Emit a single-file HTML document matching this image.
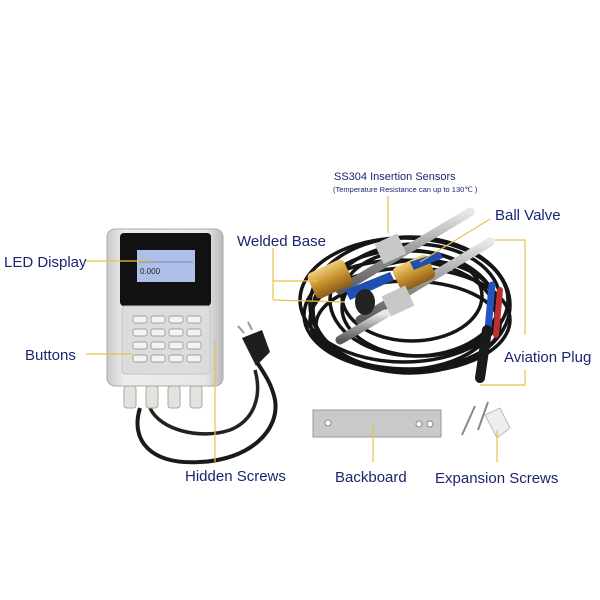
<!DOCTYPE html>
<html><head><meta charset="utf-8"><style>
html,body{margin:0;padding:0;background:#fff;width:600px;height:600px;overflow:hidden}
svg{display:block}
text{font-family:"Liberation Sans",sans-serif;fill:#1c2470}
</style></head><body>
<svg width="600" height="600" viewBox="0 0 600 600" xmlns="http://www.w3.org/2000/svg">
<defs>
<linearGradient id="sil" x1="0" x2="1" y1="0" y2="0">
<stop offset="0" stop-color="#c9cacc"/><stop offset="0.15" stop-color="#eceded"/><stop offset="0.85" stop-color="#e6e7e8"/><stop offset="1" stop-color="#b9babc"/></linearGradient>
<linearGradient id="brass" x1="0" x2="0" y1="0" y2="1"><stop offset="0" stop-color="#f0cf7a"/><stop offset="0.5" stop-color="#c8922e"/><stop offset="1" stop-color="#8a5d1a"/></linearGradient>
<linearGradient id="rod" x1="0" x2="0" y1="0" y2="1"><stop offset="0" stop-color="#e8e8e8"/><stop offset="0.5" stop-color="#9a9a9a"/><stop offset="1" stop-color="#5a5a5a"/></linearGradient>
</defs>

<path d="M140 408 C130 440 150 465 200 462 C250 460 280 430 275 400 C270 375 255 365 252 350" fill="none" stroke="#1a1a1a" stroke-width="4"/>
<path d="M150 408 C160 430 200 440 230 430 C255 420 262 395 255 370" fill="none" stroke="#222" stroke-width="3.5"/>
<path d="M242 338 L262 330 L270 352 L256 366 Z" fill="#1e1e1e"/>
<line x1="244" y1="333" x2="238" y2="326" stroke="#999" stroke-width="2"/>
<line x1="252" y1="330" x2="248" y2="322" stroke="#999" stroke-width="2"/>

<rect x="107" y="229" width="116" height="157" rx="8" fill="url(#sil)" stroke="#aaa"/>
<rect x="120" y="233" width="91" height="73" rx="4" fill="#111"/>
<rect x="137" y="250" width="58" height="32" fill="#aebfe8"/>
<text x="140" y="274" font-size="8" style="fill:#222">0.000</text>
<line x1="139" y1="262" x2="193" y2="262" stroke="#556" stroke-width="0.5"/>
<rect x="122" y="306" width="88" height="68" rx="3" fill="#dcdcdd" stroke="#c4c4c4"/>
<g fill="#f3f3f3" stroke="#888" stroke-width="0.7">
<rect x="133" y="316" width="14" height="7" rx="2"/><rect x="151" y="316" width="14" height="7" rx="2"/><rect x="169" y="316" width="14" height="7" rx="2"/><rect x="187" y="316" width="14" height="7" rx="2"/>
<rect x="133" y="329" width="14" height="7" rx="2"/><rect x="151" y="329" width="14" height="7" rx="2"/><rect x="169" y="329" width="14" height="7" rx="2"/><rect x="187" y="329" width="14" height="7" rx="2"/>
<rect x="133" y="342" width="14" height="7" rx="2"/><rect x="151" y="342" width="14" height="7" rx="2"/><rect x="169" y="342" width="14" height="7" rx="2"/><rect x="187" y="342" width="14" height="7" rx="2"/>
<rect x="133" y="355" width="14" height="7" rx="2"/><rect x="151" y="355" width="14" height="7" rx="2"/><rect x="169" y="355" width="14" height="7" rx="2"/><rect x="187" y="355" width="14" height="7" rx="2"/>
</g>
<g fill="#e4e2dc" stroke="#a9a79f">
<rect x="124" y="386" width="12" height="22" rx="3"/><rect x="146" y="386" width="12" height="22" rx="3"/><rect x="168" y="386" width="12" height="22" rx="3"/><rect x="190" y="386" width="12" height="22" rx="3"/>
</g>

<g fill="none" stroke="#151515" stroke-width="3.5">
<ellipse cx="410" cy="305" rx="100" ry="68"/>
<ellipse cx="405" cy="310" rx="92" ry="60"/>
<ellipse cx="415" cy="300" rx="85" ry="56"/>
<ellipse cx="400" cy="315" rx="96" ry="55"/>
<ellipse cx="420" cy="308" rx="78" ry="48"/>
<ellipse cx="410" cy="320" rx="100" ry="52"/>
<ellipse cx="412" cy="296" rx="70" ry="45"/>
<ellipse cx="408" cy="325" rx="92" ry="44"/>
<ellipse cx="404" cy="300" rx="104" ry="62"/>
</g>
<line x1="340" y1="290" x2="470" y2="212" stroke="url(#rod)" stroke-width="9" stroke-linecap="round"/>
<rect x="310" y="265" width="40" height="28" rx="5" fill="url(#brass)" transform="rotate(-25 330 279)"/>
<rect x="378" y="238" width="25" height="22" fill="#c8c8c8" transform="rotate(-25 390 249)"/>
<path d="M345 290 L390 272 L394 280 L350 300 Z" fill="#1f4fb0"/>
<line x1="360" y1="320" x2="490" y2="242" stroke="url(#rod)" stroke-width="9" stroke-linecap="round"/>
<line x1="340" y1="340" x2="385" y2="314" stroke="url(#rod)" stroke-width="9" stroke-linecap="round"/>
<rect x="395" y="260" width="38" height="26" rx="5" fill="url(#brass)" transform="rotate(-25 414 273)"/>
<rect x="385" y="290" width="26" height="22" fill="#c8c8c8" transform="rotate(-25 398 301)"/>
<path d="M410 262 L440 252 L443 258 L414 270 Z" fill="#1f4fb0"/>
<ellipse cx="365" cy="302" rx="10" ry="13" fill="#222"/>
<path d="M492 285 L488 330" stroke="#2255c0" stroke-width="7" stroke-linecap="round"/>
<path d="M500 290 L496 335" stroke="#c03030" stroke-width="6" stroke-linecap="round"/>
<path d="M487 330 L480 378" stroke="#1a1a1a" stroke-width="10" stroke-linecap="round"/>

<rect x="313" y="410" width="128" height="27" fill="#c8c9cb" stroke="#999"/>
<circle cx="419" cy="424" r="3" fill="#fff" stroke="#888"/><circle cx="430" cy="424" r="3" fill="#fff" stroke="#888"/>
<circle cx="328" cy="423" r="3" fill="#fff" stroke="#888"/>
<line x1="462" y1="435" x2="475" y2="406" stroke="#888" stroke-width="2"/>
<line x1="478" y1="430" x2="488" y2="402" stroke="#888" stroke-width="2"/>
<path d="M485 415 L500 408 L510 428 L497 438 Z" fill="#eee" stroke="#bbb"/>

<g stroke="#e5c34a" stroke-width="1.2" fill="none">
<line x1="86" y1="261" x2="148" y2="261"/>
<line x1="86" y1="354" x2="133" y2="354"/>
<polyline points="273,248 273,300"/><line x1="273" y1="281" x2="318" y2="281"/><line x1="273" y1="300" x2="345" y2="302"/>
<line x1="388" y1="196" x2="388" y2="233"/>
<line x1="490" y1="219" x2="420" y2="262"/>
<polyline points="495,240 525,240 525,335"/>
<polyline points="525,370 525,385 480,385"/>
<line x1="215" y1="340" x2="215" y2="462"/>
<line x1="373" y1="424" x2="373" y2="462"/>
<line x1="497" y1="430" x2="497" y2="462"/>
</g>

<text x="4" y="267" font-size="15">LED Display</text>
<text x="25" y="360" font-size="15">Buttons</text>
<text x="237" y="246" font-size="15">Welded Base</text>
<text x="334" y="180" font-size="11">SS304 Insertion Sensors</text>
<text x="333" y="192" font-size="7.5">(Temperature Resistance can up to 130℃ )</text>
<text x="495" y="220" font-size="15">Ball Valve</text>
<text x="504" y="362" font-size="15">Aviation Plug</text>
<text x="185" y="481" font-size="15">Hidden Screws</text>
<text x="335" y="482" font-size="15">Backboard</text>
<text x="435" y="483" font-size="15">Expansion Screws</text>
</svg>
</body></html>
